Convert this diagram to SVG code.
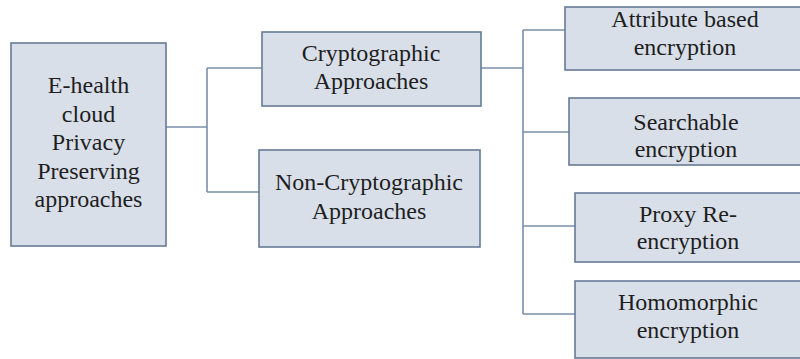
<svg xmlns="http://www.w3.org/2000/svg" width="800" height="359" viewBox="0 0 800 359">
  <style>
    .box { fill: #d9dfe9; stroke: #667a96; stroke-width: 1.6; }
    .wire { fill: none; stroke: #7a8eab; stroke-width: 1.6; }
  </style>
  <rect width="800" height="359" fill="#ffffff"/>

  <!-- connectors -->
  <g id="connectors">
    <path class="wire" d="M166,127 H207 M207,68 V192 M207,68 H262 M207,192 H259"/>
    <path class="wire" d="M481,68 H523 M523,30 V314 M523,30 H565 M523,132 H569 M523,226 H575 M523,314 H575"/>
  </g>

  <g font-family="Liberation Serif, Times New Roman, DejaVu Serif, serif" font-size="24" fill="#1e1e1e" text-anchor="middle">
    <g id="root">
      <rect class="box" x="11" y="43" width="155" height="203"/>
      <text x="88.5" y="93">E-health</text>
      <text x="88.5" y="121.5">cloud</text>
      <text x="88.5" y="150">Privacy</text>
      <text x="88.5" y="178.5">Preserving</text>
      <text x="88.5" y="207">approaches</text>
    </g>

    <g id="crypto">
      <rect class="box" x="262" y="32" width="219" height="74"/>
      <text x="371" y="61">Cryptographic</text>
      <text x="371" y="88.5">Approaches</text>
    </g>

    <g id="noncrypto">
      <rect class="box" x="259" y="150" width="221" height="97"/>
      <text x="369" y="190">Non-Cryptographic</text>
      <text x="369" y="218.5">Approaches</text>
    </g>

    <g id="abe">
      <rect class="box" x="565" y="7" width="240" height="63"/>
      <text x="685" y="27">Attribute based</text>
      <text x="685" y="55">encryption</text>
    </g>

    <g id="searchable">
      <rect class="box" x="569" y="98" width="236" height="67"/>
      <text x="686" y="130">Searchable</text>
      <text x="686" y="157">encryption</text>
    </g>

    <g id="proxy">
      <rect class="box" x="575" y="193" width="230" height="69"/>
      <text x="688" y="221.5">Proxy Re-</text>
      <text x="688" y="249">encryption</text>
    </g>

    <g id="homomorphic">
      <rect class="box" x="575" y="281" width="230" height="77"/>
      <text x="688" y="310">Homomorphic</text>
      <text x="688" y="338">encryption</text>
    </g>
  </g>
</svg>
